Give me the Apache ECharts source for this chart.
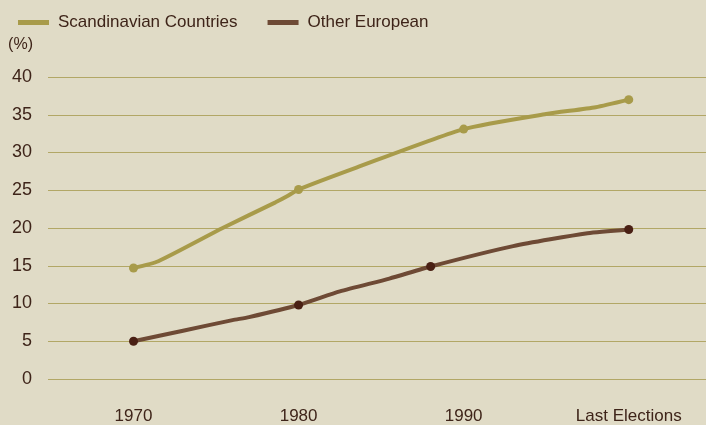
<!DOCTYPE html>
<html>
<head>
<meta charset="utf-8">
<script src="https://cdn.jsdelivr.net/npm/echarts@6/dist/echarts.min.js"></script>
<style>
  html, body { margin: 0; padding: 0; background: #e0dbc6; }
  #chart { width: 706px; height: 425px; }
</style>
</head>
<body>
<div id="chart"></div>
<script>
// Share of seats (%) over time.
const scandYears  = [1970, 1971.5, 1975.4, 1978.6, 1979.3, 1980, 1983.5, 1990, 1995, 1998, 2000];
const scandValues = [14.7, 15.6,   20.0,   23.4,   24.2,   25.1, 28.0,   33.1, 35.1, 36.0, 37.0];
const scandMarked = [1970, 1980, 1990, 2000];

const otherYears  = [1970, 1973, 1976, 1977, 1980, 1982.5, 1985.5, 1988, 1993, 1997.5, 2000];
const otherValues = [5.0,  6.4,  7.8,  8.2,  9.8,  11.6,   13.3,   14.9, 17.6, 19.3,   19.8];
const otherMarked = [1970, 1980, 1988, 2000];

// Tick positions on the time axis; the last one stands for the latest election.
const xTicks = [1970, 1980, 1990, 2000];
const xTickLabels = ['1970', '1980', '1990', 'Last Elections'];

const OLIVE = '#a89b4a';
const BROWN = '#6e4a35';
const BROWN_DOT = '#4a2014';
const TEXT = '#3e2419';
const GRID = '#b2a766';
const FONT = '"Liberation Sans", Arial, sans-serif';

function buildPoints(years, values, marked) {
  return years.map((y, i) => ({
    value: [y, values[i]],
    symbol: marked.includes(y) ? 'circle' : 'none'
  }));
}

const chart = echarts.init(document.getElementById('chart'), null, { renderer: 'canvas' });

chart.setOption({
  backgroundColor: '#e0dbc6',
  animation: false,
  textStyle: { fontFamily: FONT, color: TEXT },
  legend: {
    left: 18,
    top: 14,
    padding: 0,
    itemWidth: 31,
    itemHeight: 5,
    itemGap: 30,
    icon: 'rect',
    selectedMode: false,
    textStyle: {
      fontFamily: FONT,
      fontSize: 17,
      color: TEXT,
      padding: [0, 0, 0, 4]
    },
    data: [
      { name: 'Scandinavian Countries', itemStyle: { color: OLIVE } },
      { name: 'Other European', itemStyle: { color: BROWN } }
    ]
  },
  grid: { left: 48, right: 0, top: 77, bottom: 46, containLabel: false },
  xAxis: {
    type: 'value',
    min: 1964.82,
    max: 2004.68,
    axisLine: { show: false },
    axisTick: { show: false },
    splitLine: { show: false },
    axisLabel: {
      customValues: xTicks,
      margin: 29,
      fontFamily: FONT,
      fontSize: 17,
      color: TEXT,
      formatter: v => xTickLabels[xTicks.indexOf(v)]
    }
  },
  yAxis: {
    type: 'value',
    min: 0,
    max: 40,
    interval: 5,
    name: '(%)',
    nameLocation: 'end',
    nameGap: 32,
    nameTextStyle: {
      fontFamily: FONT,
      fontSize: 16,
      color: TEXT,
      align: 'right',
      verticalAlign: 'middle',
      padding: [0, 15, 0, 0]
    },
    axisLine: { show: false },
    axisTick: { show: false },
    axisLabel: {
      margin: 16,
      fontFamily: FONT,
      fontSize: 18,
      color: TEXT,
      padding: [0, 0, 9, 0]
    },
    splitLine: { lineStyle: { color: GRID, width: 1.2 } }
  },
  series: [
    {
      name: 'Scandinavian Countries',
      type: 'line',
      smooth: 0.2,
      symbolSize: 9,
      showAllSymbol: true,
      lineStyle: { color: OLIVE, width: 4 },
      itemStyle: { color: OLIVE },
      emphasis: { disabled: true },
      data: buildPoints(scandYears, scandValues, scandMarked)
    },
    {
      name: 'Other European',
      type: 'line',
      smooth: 0.2,
      symbolSize: 9,
      showAllSymbol: true,
      lineStyle: { color: BROWN, width: 4 },
      itemStyle: { color: BROWN_DOT },
      emphasis: { disabled: true },
      data: buildPoints(otherYears, otherValues, otherMarked)
    }
  ]
});
</script>
</body>
</html>
